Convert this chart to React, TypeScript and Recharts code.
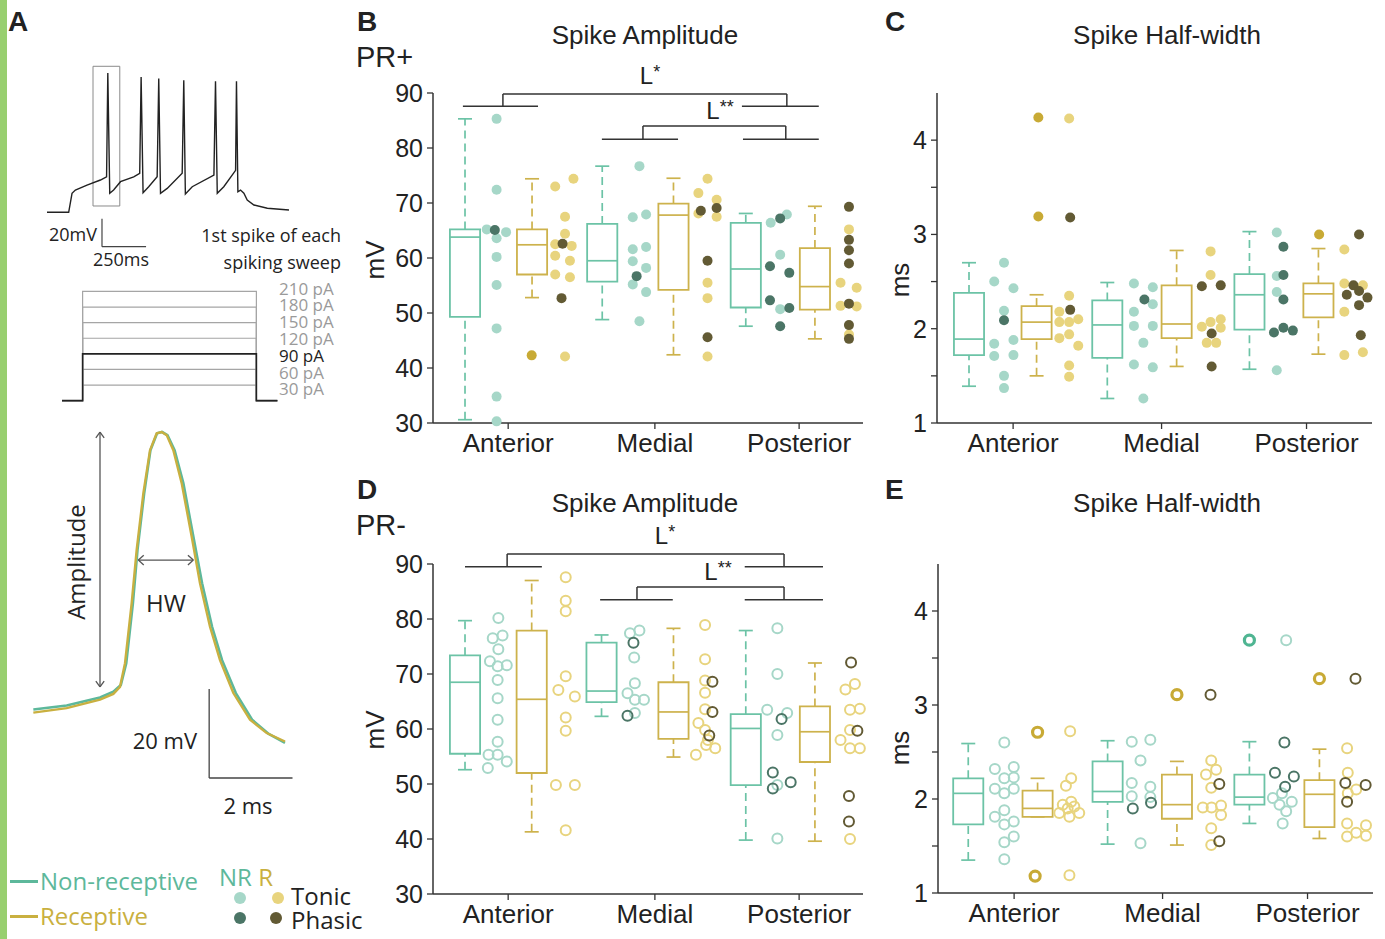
import React from "react";
import { ComposedChart, LineChart, Line, Scatter, XAxis, YAxis, ReferenceLine, ReferenceArea } from "recharts";

const SANS = "'Liberation Sans', Arial, sans-serif";
const MYR = "'Open Sans', sans-serif";

const NR_LINE = "#6cc3a6";
const R_LINE = "#cdb24c";
const NR_TONIC = "#a6d7c8";
const NR_PHASIC = "#4b7566";
const R_TONIC = "#e8d47e";
const R_PHASIC = "#625a34";
const R_OUT = "#c8aa35";
const NR_OUT = "#4fb592";
const INK = "#333";

const REGIONS = ["Anterior", "Medial", "Posterior"];

// ---------- panel A traces ----------
// spike train, [ms, mV]
const TRAIN = [
  [0, -70], [123, -70], [142, -56.4], [161, -54.1], [227, -50.5], [303, -46.9], [338, -44.6], [345, 29.7],
  [356, -56.4], [378, -54.1], [417, -48.1], [492, -44.6], [526, -42.1], [534, 26.9], [545, -56.0],
  [577, -51.7], [625, -44.6], [634, 25.7], [644, -56.4], [682, -52.9], [767, -42.1], [776, 24.5],
  [785, -56.9], [824, -51.7], [947, -43.4], [956, 23.8], [966, -56.4], [1003, -51.7], [1070, -40.0],
  [1075, 23.8], [1083, -55.3], [1098, -54.1], [1117, -56.4], [1136, -61.2], [1174, -64.8], [1250, -67.1],
  [1373, -68.4],
];
const STEP_LEVELS = [30, 60, 120, 150, 180, 210];
const STEP_BOLD = 90;
const SWEEP = [85, 202, 1188, 1307]; // start, on, off, end (ms)
const CURRENT_LABELS = ["210 pA", "180 pA", "150 pA", "120 pA", "90 pA", "60 pA", "30 pA"];

// first spike waveform, [ms, mV]
const SPIKE_R = [
  [0, -60], [0.8, -59.0], [1.6, -57.1], [1.92, -55.8], [2.08, -54.2], [2.2, -48.9], [2.36, -35.4],
  [2.48, -23.4], [2.64, -10.7], [2.8, -1.0], [2.96, 2.8], [3.08, 3.1], [3.2, 2.4], [3.36, -1.0],
  [3.56, -8.4], [3.8, -20.4], [4.0, -30.9], [4.24, -40.7], [4.48, -48.2], [4.8, -55.6], [5.2, -61.6],
  [5.6, -64.6], [6.04, -66.5],
];
const SPIKE_NR = [
  [0, -59.3], [0.8, -58.4], [1.6, -56.6], [1.92, -55.3], [2.1, -53.8], [2.23, -48.9], [2.39, -35.4],
  [2.5, -23.4], [2.66, -10.7], [2.81, -1.0], [2.97, 2.8], [3.09, 3.1], [3.22, 2.4], [3.39, -1.0],
  [3.6, -8.4], [3.84, -20.4], [4.05, -30.9], [4.29, -40.7], [4.53, -48.2], [4.86, -55.6], [5.25, -61.6],
  [5.65, -64.8], [6.04, -66.8],
];

// ---------- panels B-E ----------
type Box = { x: number; lo: number; q1: number; med: number; q3: number; hi: number; g: "NR" | "R" };
type Bracket = { l1: number; l2: number; r1: number; r2: number; lm: number; rm: number; top: number; arm: number };

const B_BOXES: Box[] = [
  { x: 1.0, lo: 30.6, q1: 49.3, med: 63.8, q3: 65.2, hi: 85.3, g: "NR" },
  { x: 2.91, lo: 52.8, q1: 57.0, med: 62.4, q3: 65.2, hi: 74.4, g: "R" },
  { x: 4.91, lo: 48.8, q1: 55.7, med: 59.5, q3: 66.2, hi: 76.7, g: "NR" },
  { x: 6.94, lo: 42.4, q1: 54.2, med: 67.8, q3: 69.9, hi: 74.5, g: "R" },
  { x: 9.0, lo: 47.6, q1: 51.0, med: 58.0, q3: 66.4, hi: 68.1, g: "NR" },
  { x: 10.97, lo: 45.3, q1: 50.6, med: 54.8, q3: 61.8, hi: 69.4, g: "R" },
];
const B_NR_T = [
  [1.62, 65.2], [1.9, 85.3], [1.9, 72.4], [1.9, 63.6], [2.17, 64.7], [1.9, 60.2], [1.9, 55.1], [1.9, 47.2],
  [1.9, 34.8], [1.9, 30.3], [5.97, 76.7], [5.78, 67.4], [6.16, 67.9], [5.78, 61.6], [6.16, 62.0], [5.78, 59.4],
  [6.16, 58.2], [5.78, 55.2], [6.16, 53.8], [5.97, 48.5], [9.71, 66.4], [10.17, 67.9], [9.98, 60.6], [9.98, 50.7],
];
const B_NR_P = [[1.85, 65.1], [5.89, 56.7], [9.98, 67.2], [9.69, 58.5], [10.24, 57.3], [9.69, 52.3], [10.24, 50.9], [9.98, 47.6]];
const B_R_T = [
  [3.57, 73.0], [4.09, 74.4], [3.85, 67.5], [3.85, 64.4], [3.57, 62.5], [4.04, 62.2], [3.57, 60.4], [3.99, 59.5],
  [3.57, 57.0], [3.99, 56.5], [3.85, 42.1], [7.65, 71.8], [7.91, 74.4], [7.65, 68.1], [8.17, 70.6], [8.17, 67.5],
  [7.91, 55.5], [7.91, 52.7], [7.91, 42.1], [11.94, 65.2], [11.7, 55.5], [12.16, 54.6], [11.7, 51.3], [12.16, 51.2],
  [11.94, 46.1],
];
const B_R_P = [
  [3.78, 62.6], [3.75, 52.7], [7.72, 68.6], [8.17, 69.1], [7.91, 59.5], [7.91, 45.6], [11.94, 69.3], [11.94, 63.3],
  [11.94, 61.4], [11.94, 59.0], [11.94, 51.7], [11.94, 47.8], [11.94, 45.3],
];
const B_OUT_R = [[2.9, 42.3]];
const B_OUT_NR: number[][] = [];
const B_BRACKETS: Bracket[] = [
  { l1: 0.94, l2: 3.08, r1: 8.89, r2: 11.08, lm: 2.08, rm: 10.17, top: 89.8, arm: 87.6 },
  { l1: 4.9, l2: 7.07, r1: 8.92, r2: 11.08, lm: 6.07, rm: 10.14, top: 84.0, arm: 81.6 },
];

const C_BOXES: Box[] = [
  { x: 1.0, lo: 1.39, q1: 1.72, med: 1.89, q3: 2.38, hi: 2.7, g: "NR" },
  { x: 2.93, lo: 1.5, q1: 1.89, med: 2.07, q3: 2.24, hi: 2.36, g: "R" },
  { x: 4.95, lo: 1.26, q1: 1.69, med: 2.04, q3: 2.3, hi: 2.49, g: "NR" },
  { x: 6.93, lo: 1.6, q1: 1.9, med: 2.05, q3: 2.46, hi: 2.83, g: "R" },
  { x: 9.01, lo: 1.57, q1: 1.99, med: 2.36, q3: 2.58, hi: 3.03, g: "NR" },
  { x: 10.98, lo: 1.73, q1: 2.12, med: 2.37, q3: 2.48, hi: 2.85, g: "R" },
];
const C_NR_T = [
  [1.72, 2.5], [2.0, 2.7], [2.27, 2.43], [2.0, 2.19], [1.72, 1.84], [2.27, 1.88], [1.72, 1.71], [2.27, 1.72],
  [2.0, 1.5], [2.0, 1.37], [5.71, 2.48], [6.25, 2.44], [5.71, 2.18], [6.25, 2.26], [5.71, 2.03], [6.25, 2.03],
  [5.98, 1.85], [5.71, 1.62], [6.25, 1.59], [5.98, 1.26], [9.79, 3.02], [9.79, 2.56], [9.79, 2.39], [9.79, 1.56],
];
const C_NR_P = [[2.0, 2.09], [6.01, 2.31], [9.98, 2.87], [9.98, 2.57], [9.98, 2.31], [9.71, 1.96], [9.98, 2.01], [10.25, 1.98]];
const C_R_T = [
  [3.86, 4.23], [3.86, 2.35], [3.58, 2.18], [3.58, 2.07], [3.86, 2.07], [4.12, 2.1], [3.58, 1.9], [3.86, 1.94],
  [4.12, 1.82], [3.86, 1.61], [3.86, 1.49], [7.9, 2.82], [7.9, 2.57], [7.65, 2.02], [7.9, 2.07], [8.19, 2.1],
  [8.19, 2.01], [7.79, 1.85], [8.06, 1.85], [11.72, 2.84], [11.72, 2.48], [12.25, 2.46], [11.72, 2.18],
  [11.72, 1.72], [12.25, 1.75],
];
const C_R_P = [
  [3.89, 3.18], [3.89, 2.2], [7.65, 2.45], [8.19, 2.46], [7.93, 1.95], [7.93, 1.6], [12.14, 3.0], [11.98, 2.46],
  [11.79, 2.36], [12.14, 2.4], [12.38, 2.33], [12.14, 2.25], [12.19, 1.93],
];
const C_OUT_R = [[2.98, 4.24], [2.98, 3.19], [11.0, 3.0]];
const C_OUT_NR: number[][] = [];

const D_BOXES: Box[] = [
  { x: 1.0, lo: 52.6, q1: 55.5, med: 68.5, q3: 73.4, hi: 79.7, g: "NR" },
  { x: 2.9, lo: 41.3, q1: 52.0, med: 65.4, q3: 77.9, hi: 87.0, g: "R" },
  { x: 4.89, lo: 62.3, q1: 64.9, med: 66.9, q3: 75.7, hi: 77.1, g: "NR" },
  { x: 6.94, lo: 54.9, q1: 58.2, med: 63.1, q3: 68.5, hi: 78.3, g: "R" },
  { x: 9.0, lo: 39.8, q1: 49.8, med: 60.1, q3: 62.7, hi: 77.9, g: "NR" },
  { x: 10.97, lo: 39.6, q1: 54.0, med: 59.5, q3: 64.1, hi: 72.0, g: "R" },
];
const D_NR_T = [
  [1.95, 80.2], [1.79, 76.5], [2.07, 77.0], [1.95, 74.5], [1.71, 72.3], [1.93, 71.4], [2.19, 71.6], [1.93, 68.9],
  [1.93, 65.6], [1.93, 61.7], [1.93, 57.7], [1.67, 55.3], [1.93, 55.3], [2.19, 54.1], [1.65, 52.9],
  [5.7, 77.4], [5.97, 77.9], [5.82, 73.0], [5.84, 68.3], [5.63, 66.5], [5.84, 65.3], [6.1, 65.3], [5.84, 62.9],
  [9.9, 78.3], [9.9, 70.0], [9.61, 63.5], [10.18, 62.9], [9.9, 58.9], [9.9, 49.8], [9.9, 40.1],
];
const D_NR_P = [[5.8, 75.7], [5.63, 62.4], [10.02, 61.8], [9.77, 52.1], [9.77, 49.2], [10.28, 50.3]];
const D_R_T = [
  [3.87, 87.6], [3.87, 83.3], [3.87, 81.4], [3.87, 69.6], [3.66, 67.1], [4.13, 65.9], [3.87, 62.1], [3.87, 59.7],
  [3.59, 49.8], [4.13, 49.8], [3.87, 41.6], [7.84, 78.9], [7.84, 72.7], [7.84, 68.8], [7.84, 66.6], [7.84, 63.6],
  [7.65, 61.1], [7.84, 59.8], [7.92, 58.0], [8.13, 56.5], [7.87, 57.1], [7.58, 55.3], [11.84, 67.2], [12.11, 68.2],
  [11.97, 63.5], [12.25, 63.7], [11.97, 59.8], [11.7, 58.0], [11.97, 56.5], [12.25, 56.5], [11.97, 40.0],
];
const D_R_P = [[8.05, 68.6], [8.05, 63.1], [7.96, 58.8], [12.0, 72.1], [12.18, 59.7], [11.94, 47.8], [11.94, 43.2]];
const D_OUT_R: number[][] = [];
const D_OUT_NR: number[][] = [];
const D_BRACKETS: Bracket[] = [
  { l1: 1.0, l2: 3.19, r1: 8.97, r2: 11.2, lm: 2.2, rm: 10.09, top: 91.8, arm: 89.5 },
  { l1: 4.85, l2: 6.92, r1: 8.97, r2: 11.2, lm: 5.9, rm: 10.09, top: 85.8, arm: 83.5 },
];

const E_BOXES: Box[] = [
  { x: 0.95, lo: 1.35, q1: 1.73, med: 2.06, q3: 2.22, hi: 2.59, g: "NR" },
  { x: 2.93, lo: 1.81, q1: 1.81, med: 1.9, q3: 2.09, hi: 2.22, g: "R" },
  { x: 4.93, lo: 1.52, q1: 1.97, med: 2.08, q3: 2.4, hi: 2.62, g: "NR" },
  { x: 6.91, lo: 1.51, q1: 1.79, med: 1.94, q3: 2.26, hi: 2.4, g: "R" },
  { x: 8.98, lo: 1.74, q1: 1.94, med: 2.02, q3: 2.26, hi: 2.61, g: "NR" },
  { x: 10.98, lo: 1.58, q1: 1.7, med: 2.05, q3: 2.2, hi: 2.53, g: "R" },
];
const E_NR_T = [
  [1.71, 2.32], [2.25, 2.34], [1.98, 2.6], [1.98, 2.22], [2.25, 2.23], [1.71, 2.11], [1.98, 2.06], [2.25, 2.11],
  [1.98, 1.88], [1.71, 1.81], [1.98, 1.73], [2.25, 1.76], [1.98, 1.54], [2.25, 1.6], [1.98, 1.36],
  [5.62, 2.61], [6.15, 2.63], [5.87, 2.41], [5.62, 2.17], [6.15, 2.13], [5.62, 2.03], [6.15, 2.02], [5.87, 1.53],
  [10.03, 3.69], [9.65, 2.01], [9.91, 2.06], [9.84, 1.94], [10.19, 1.97], [10.03, 1.87], [9.93, 1.74],
];
const E_NR_P = [[5.65, 1.9], [6.17, 1.96], [9.71, 2.28], [9.98, 2.6], [10.25, 2.24], [10.0, 2.13]];
const E_R_T = [
  [3.86, 2.72], [3.89, 2.22], [3.74, 2.14], [3.89, 1.97], [3.65, 1.94], [3.55, 1.85], [3.84, 1.81], [4.12, 1.85],
  [3.79, 1.9], [3.98, 1.92], [3.84, 1.19], [7.89, 2.41], [8.03, 2.31], [7.74, 2.26], [7.89, 2.12], [7.65, 1.91],
  [7.9, 1.91], [8.17, 1.93], [8.17, 1.83], [7.89, 1.69], [7.89, 1.51], [11.77, 2.54], [11.79, 2.28], [11.79, 2.06],
  [11.77, 1.74], [12.31, 1.72], [11.77, 1.6], [12.03, 1.64], [12.31, 1.61], [12.03, 2.1],
];
const E_R_P = [[7.87, 3.11], [8.12, 2.16], [8.12, 1.55], [12.01, 3.28], [11.72, 2.17], [12.3, 2.15], [11.77, 1.97]];
const E_OUT_R = [[2.86, 1.18], [2.93, 2.71], [6.91, 3.11], [10.98, 3.28]];
const E_OUT_NR = [[8.98, 3.69]];

const MV_TICKS = [30, 40, 50, 60, 70, 80, 90];
const MS_TICKS = [1, 1.5, 2, 2.5, 3, 3.5, 4];
const AMP_XTICKS = [2.23, 6.41, 10.52];
const HW_XTICKS = [2.26, 6.5, 10.64];

const pts = (a: number[][]) => a.map(([x, y]) => ({ x, y }));
const tv = (a: number[][]) => a.map(([t, v]) => ({ t, v }));

function Txt({ x, y, children, size = 24, anchor = "middle", color = "#222", font = SANS, weight = 400, rotate = 0 }: any) {
  const tx = anchor === "middle" ? "-50%" : anchor === "end" ? "-100%" : "0";
  return (
    <div
      style={{
        position: "absolute", left: x, top: y, transform: `translate(${tx}, -50%) rotate(${rotate}deg)`,
        fontSize: size, color, fontFamily: font, fontWeight: weight, whiteSpace: "nowrap", lineHeight: 1,
      }}
    >
      {children}
    </div>
  );
}

const filled = (fill: string, r = 5) => (p: any) => <circle cx={p.cx} cy={p.cy} r={r} fill={fill} />;
const ring = (stroke: string, r = 5, w = 2) => (p: any) => (
  <circle cx={p.cx} cy={p.cy} r={r} fill="none" stroke={stroke} strokeWidth={w} />
);

function boxEls(boxes: Box[]) {
  const out: any[] = [];
  boxes.forEach((b, i) => {
    const c = b.g === "NR" ? NR_LINE : R_LINE;
    const seg = (x1: number, y1: number, x2: number, y2: number, k: string, dash?: string) => (
      <ReferenceLine key={`${k}${i}`} segment={[{ x: x1, y: y1 }, { x: x2, y: y2 }]} stroke={c} strokeWidth={1.7} strokeDasharray={dash} />
    );
    out.push(seg(b.x, b.q3, b.x, b.hi, "wh", "8 5"));
    out.push(seg(b.x, b.lo, b.x, b.q1, "wl", "8 5"));
    out.push(seg(b.x - 0.2, b.hi, b.x + 0.2, b.hi, "ch"));
    out.push(seg(b.x - 0.2, b.lo, b.x + 0.2, b.lo, "cl"));
    out.push(
      <ReferenceArea key={`bx${i}`} x1={b.x - 0.43} x2={b.x + 0.43} y1={b.q1} y2={b.q3} fill="#fff" fillOpacity={1} stroke={c} strokeWidth={1.8} />
    );
    out.push(seg(b.x - 0.43, b.med, b.x + 0.43, b.med, "md"));
  });
  return out;
}

function bracketEls(brs: Bracket[]) {
  const out: any[] = [];
  brs.forEach((b, i) => {
    const segs = [
      [b.l1, b.arm, b.l2, b.arm], [b.r1, b.arm, b.r2, b.arm], [b.lm, b.arm, b.lm, b.top],
      [b.lm, b.top, b.rm, b.top], [b.rm, b.top, b.rm, b.arm],
    ];
    segs.forEach((s, j) =>
      out.push(
        <ReferenceLine key={`br${i}-${j}`} segment={[{ x: s[0], y: s[1] }, { x: s[2], y: s[3] }]} stroke={INK} strokeWidth={1.5} ifOverflow="visible" />
      )
    );
  });
  return out;
}

function BoxPanel(props: any) {
  const { left, top, width, height, mt, mr, yw, xDomain, yDomain, yTicks, yFmt, xTicks, boxes, nrT, nrP, rT, rP, outR, outNR, open, brackets } = props;
  const tonicShape = (c: string) => (open ? ring(c, 5, 2) : filled(c, 5));
  const outShape = (c: string) => (open ? ring(c, 5, 3.2) : filled(c, 5));
  return (
    <div style={{ position: "absolute", left, top }}>
      <ComposedChart width={width} height={height} margin={{ top: mt, right: mr, bottom: 0, left: 0 }}>
        <XAxis
          type="number" dataKey="x" domain={xDomain} ticks={xTicks} interval={0}
          tickFormatter={(_v: number, i: number) => REGIONS[i]}
          axisLine={{ stroke: INK, strokeWidth: 1.5 }} tickLine={{ stroke: INK, strokeWidth: 1.3 }} tickSize={6} tickMargin={5}
          height={42} tick={{ fill: "#222", fontSize: 26, fontFamily: SANS }}
        />
        <YAxis
          type="number" dataKey="y" domain={yDomain} ticks={yTicks} interval={0} tickFormatter={yFmt} width={yw}
          axisLine={{ stroke: INK, strokeWidth: 1.5 }} tickLine={{ stroke: INK, strokeWidth: 1.3 }} tickSize={6} tickMargin={4}
          tick={{ fill: "#222", fontSize: 25, fontFamily: SANS }}
        />
        {brackets ? bracketEls(brackets) : null}
        {boxEls(boxes)}
        <Scatter data={pts(nrT)} shape={tonicShape(NR_TONIC)} isAnimationActive={false} />
        <Scatter data={pts(rT)} shape={tonicShape(R_TONIC)} isAnimationActive={false} />
        <Scatter data={pts(nrP)} shape={tonicShape(NR_PHASIC)} isAnimationActive={false} />
        <Scatter data={pts(rP)} shape={tonicShape(R_PHASIC)} isAnimationActive={false} />
        <Scatter data={pts(outR)} shape={outShape(R_OUT)} isAnimationActive={false} />
        <Scatter data={pts(outNR)} shape={outShape(NR_OUT)} isAnimationActive={false} />
      </ComposedChart>
    </div>
  );
}

const intFmt = (v: number) => (Number.isInteger(v) ? String(v) : "");

function Star({ n }: { n: number }) {
  return (
    <span>
      L<span style={{ fontSize: "0.75em", verticalAlign: "0.35em" }}>{"*".repeat(n)}</span>
    </span>
  );
}

export default function App() {
  const stepSeries = STEP_LEVELS.map((L) => [
    { t: SWEEP[0], v: 0 }, { t: SWEEP[1], v: 0 }, { t: SWEEP[1], v: L }, { t: SWEEP[2], v: L }, { t: SWEEP[2], v: 0 }, { t: SWEEP[3], v: 0 },
  ]);
  const boldStep = [
    { t: SWEEP[0], v: 0 }, { t: SWEEP[1], v: 0 }, { t: SWEEP[1], v: STEP_BOLD }, { t: SWEEP[2], v: STEP_BOLD }, { t: SWEEP[2], v: 0 }, { t: SWEEP[3], v: 0 },
  ];
  const arrow = "#555";
  const seg = (k: string, x1: number, y1: number, x2: number, y2: number, c = arrow, w = 1.3) => (
    <ReferenceLine key={k} segment={[{ x: x1, y: y1 }, { x: x2, y: y2 }]} stroke={c} strokeWidth={w} ifOverflow="visible" />
  );

  return (
    <div style={{ position: "absolute", left: 0, top: 0, width: 1385, height: 939, background: "#fff", overflow: "hidden", fontFamily: SANS }}>
      <div style={{ position: "absolute", left: 0, top: 0, width: 7, height: 939, background: "#98cf6f" }} />

      {/* panel A */}
      <Txt x={8} y={22} size={28} weight={700} anchor="start">A</Txt>
      <div style={{ position: "absolute", left: 47, top: 60 }}>
        <LineChart width={242} height={190} margin={{ top: 0, right: 0, bottom: 0, left: 0 }}>
          <XAxis type="number" dataKey="t" domain={[0, 1373]} hide allowDataOverflow />
          <YAxis type="number" dataKey="v" domain={[-97, 39]} hide allowDataOverflow />
          <ReferenceArea x1={261} x2={413} y1={-65.5} y2={34.5} fill="none" stroke="#8a8a8a" strokeWidth={1} ifOverflow="visible" />
          <Line data={tv(TRAIN)} dataKey="v" stroke="#222" strokeWidth={1.4} dot={false} isAnimationActive={false} />
          {seg("sv", 312, -74.6, 312, -94.6, "#444", 1.2)}
          {seg("sh", 312, -94.6, 562, -94.6, "#444", 1.2)}
        </LineChart>
      </div>
      <Txt x={97} y={234} size={18} font={MYR} anchor="end">20mV</Txt>
      <Txt x={121} y={259} size={18} font={MYR}>250ms</Txt>
      <div style={{ position: "absolute", right: 1385 - 341, top: 222, fontFamily: MYR, fontSize: 18, lineHeight: "27px", color: "#222", textAlign: "right", whiteSpace: "nowrap" }}>
        1st spike of each<br />spiking sweep
      </div>

      <div style={{ position: "absolute", left: 47, top: 280 }}>
        <LineChart width={242} height={130} margin={{ top: 0, right: 0, bottom: 0, left: 0 }}>
          <XAxis type="number" dataKey="t" domain={[0, 1373]} hide allowDataOverflow />
          <YAxis type="number" dataKey="v" domain={[-18, 232]} hide allowDataOverflow />
          {stepSeries.map((d, i) => (
            <Line key={i} data={d} dataKey="v" stroke="#a5a5a5" strokeWidth={1.2} dot={false} isAnimationActive={false} />
          ))}
          <Line data={boldStep} dataKey="v" stroke="#222" strokeWidth={1.6} dot={false} isAnimationActive={false} />
        </LineChart>
      </div>
      <div style={{ position: "absolute", left: 279, top: 280.6, fontFamily: MYR, fontSize: 17, lineHeight: "16.8px", whiteSpace: "nowrap" }}>
        {CURRENT_LABELS.map((s, i) => (
          <React.Fragment key={s}>
            <span style={{ color: s === "90 pA" ? "#222" : "#9a9a9a" }}>{s}</span>
            {i < CURRENT_LABELS.length - 1 ? <br /> : null}
          </React.Fragment>
        ))}
      </div>

      <div style={{ position: "absolute", left: 20, top: 420 }}>
        <LineChart width={280} height={370} margin={{ top: 0, right: 0, bottom: 0, left: 0 }}>
          <XAxis type="number" dataKey="t" domain={[-0.32, 6.4]} hide allowDataOverflow />
          <YAxis type="number" dataKey="v" domain={[-77.4, 5.8]} hide allowDataOverflow />
          <Line data={tv(SPIKE_NR)} dataKey="v" stroke="#5db89b" strokeWidth={2.6} dot={false} isAnimationActive={false} />
          <Line data={tv(SPIKE_R)} dataKey="v" stroke="#c9b040" strokeWidth={2.4} dot={false} isAnimationActive={false} />
          {seg("a1", 1.6, 3.1, 1.6, -54.2)}
          {seg("a2", 1.6, 3.1, 1.5, 1.8)}
          {seg("a3", 1.6, 3.1, 1.7, 1.8)}
          {seg("a4", 1.6, -54.2, 1.5, -52.9)}
          {seg("a5", 1.6, -54.2, 1.7, -52.9)}
          {seg("h1", 2.52, -25.7, 3.84, -25.7)}
          {seg("h2", 2.52, -25.7, 2.65, -24.6)}
          {seg("h3", 2.52, -25.7, 2.65, -26.8)}
          {seg("h4", 3.84, -25.7, 3.71, -24.6)}
          {seg("h5", 3.84, -25.7, 3.71, -26.8)}
          {seg("s1", 4.22, -54.7, 4.22, -74.7, "#444", 1.3)}
          {seg("s2", 4.22, -74.7, 6.22, -74.7, "#444", 1.3)}
        </LineChart>
      </div>
      <Txt x={76} y={562} size={24} font={MYR} rotate={-90}>Amplitude</Txt>
      <Txt x={166} y={603} size={24} font={MYR}>HW</Txt>
      <Txt x={197} y={740} size={22} font={MYR} anchor="end">20 mV</Txt>
      <Txt x={248} y={805} size={22} font={MYR}>2 ms</Txt>

      {/* legend */}
      <div style={{ position: "absolute", left: 10, top: 880, width: 28, height: 2.5, background: "#5db89b" }} />
      <div style={{ position: "absolute", left: 10, top: 915, width: 28, height: 2.5, background: "#c9b040" }} />
      <Txt x={40} y={881} size={24} font={MYR} anchor="start" color="#5db89b">Non-receptive</Txt>
      <Txt x={40} y={916} size={24} font={MYR} anchor="start" color="#c9b040">Receptive</Txt>
      <div style={{ position: "absolute", left: 219, top: 864, fontFamily: MYR, fontSize: 24, lineHeight: "26px", whiteSpace: "nowrap" }}>
        <span style={{ color: "#5db89b" }}>NR</span> <span style={{ color: "#c9b040" }}>R</span>
      </div>
      <svg style={{ position: "absolute", left: 0, top: 880 }} width={300} height={50}>
        <circle cx={240} cy={18} r={6} fill={NR_TONIC} />
        <circle cx={278} cy={18} r={6} fill={R_TONIC} />
        <circle cx={240} cy={38} r={6} fill={NR_PHASIC} />
        <circle cx={276} cy={38} r={6} fill={R_PHASIC} />
      </svg>
      <div style={{ position: "absolute", left: 291, top: 884, fontFamily: MYR, fontSize: 24, lineHeight: "24px", color: "#222", whiteSpace: "nowrap" }}>
        Tonic<br />Phasic
      </div>

      {/* panel B */}
      <Txt x={357} y={22} size={28} weight={700} anchor="start">B</Txt>
      <Txt x={356} y={57} size={29} anchor="start">PR+</Txt>
      <Txt x={645} y={35} size={26}>Spike Amplitude</Txt>
      <Txt x={375} y={260} size={26} rotate={-90}>mV</Txt>
      <BoxPanel
        left={360} top={60} width={520} height={405} mt={33} mr={17} yw={73}
        xDomain={[0.088, 12.34]} yDomain={[30, 90]} yTicks={MV_TICKS} yFmt={(v: number) => String(v)} xTicks={AMP_XTICKS}
        boxes={B_BOXES} nrT={B_NR_T} nrP={B_NR_P} rT={B_R_T} rP={B_R_P} outR={B_OUT_R} outNR={B_OUT_NR} open={false} brackets={B_BRACKETS}
      />
      <Txt x={650} y={76} size={24}><Star n={1} /></Txt>
      <Txt x={720} y={111} size={24}><Star n={2} /></Txt>

      {/* panel C */}
      <Txt x={885} y={22} size={28} weight={700} anchor="start">C</Txt>
      <Txt x={1167} y={35} size={26}>Spike Half-width</Txt>
      <Txt x={900} y={280} size={26} rotate={-90}>ms</Txt>
      <BoxPanel
        left={870} top={60} width={515} height={405} mt={33} mr={13} yw={67}
        xDomain={[0.086, 12.51]} yDomain={[1, 4.5]} yTicks={MS_TICKS} yFmt={intFmt} xTicks={HW_XTICKS}
        boxes={C_BOXES} nrT={C_NR_T} nrP={C_NR_P} rT={C_R_T} rP={C_R_P} outR={C_OUT_R} outNR={C_OUT_NR} open={false}
      />

      {/* panel D */}
      <Txt x={357} y={490} size={28} weight={700} anchor="start">D</Txt>
      <Txt x={356} y={525} size={29} anchor="start">PR-</Txt>
      <Txt x={645} y={503} size={26}>Spike Amplitude</Txt>
      <Txt x={375} y={730} size={26} rotate={-90}>mV</Txt>
      <BoxPanel
        left={360} top={530} width={520} height={406} mt={34} mr={17} yw={73}
        xDomain={[0.088, 12.34]} yDomain={[30, 90]} yTicks={MV_TICKS} yFmt={(v: number) => String(v)} xTicks={AMP_XTICKS}
        boxes={D_BOXES} nrT={D_NR_T} nrP={D_NR_P} rT={D_R_T} rP={D_R_P} outR={D_OUT_R} outNR={D_OUT_NR} open brackets={D_BRACKETS}
      />
      <Txt x={665} y={536} size={24}><Star n={1} /></Txt>
      <Txt x={718} y={572} size={24}><Star n={2} /></Txt>

      {/* panel E */}
      <Txt x={885} y={490} size={28} weight={700} anchor="start">E</Txt>
      <Txt x={1167} y={503} size={26}>Spike Half-width</Txt>
      <Txt x={900} y={748} size={26} rotate={-90}>ms</Txt>
      <BoxPanel
        left={870} top={530} width={515} height={405} mt={34} mr={12} yw={68}
        xDomain={[0.086, 12.51]} yDomain={[1, 4.5]} yTicks={MS_TICKS} yFmt={intFmt} xTicks={HW_XTICKS}
        boxes={E_BOXES} nrT={E_NR_T} nrP={E_NR_P} rT={E_R_T} rP={E_R_P} outR={E_OUT_R} outNR={E_OUT_NR} open
      />
    </div>
  );
}
